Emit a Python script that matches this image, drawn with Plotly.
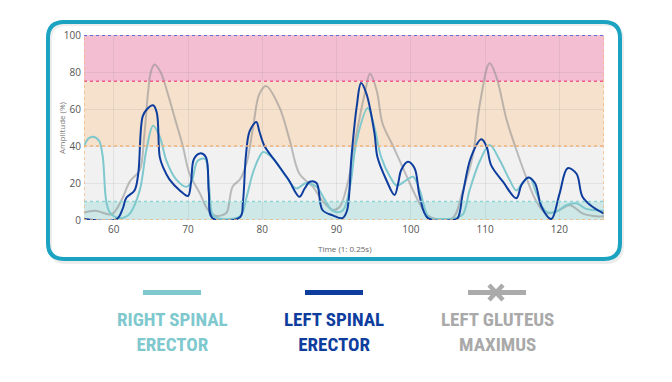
import plotly.graph_objects as go

# ---------------- data ----------------
right_x = [56, 56.6, 57.2, 58, 58.5, 59, 59.5, 60.7, 61.5, 62.2, 63.5, 64.4, 65.3, 66.2, 67.1, 68.4, 69.8, 70.5,
           71.3, 72.3, 72.8, 73.3, 74, 77, 77.9, 78.7, 79.6, 80.1, 81.4, 83.2, 84.6, 85.9, 87.3, 88.4, 89.5,
           90.8, 91.8, 92.7, 94.2, 95.1, 96, 97.2, 98.1, 99.4, 100.3, 101.2, 102.5, 104, 106, 107, 107.9,
           109.3, 110.6, 112, 113.3, 114.2, 115, 116, 116.9, 118.2, 119.6, 120.9, 122.3, 123.6, 125.8, 126]
right_y = [40, 44, 45, 43, 35, 10, 4, 1, 1.5, 3.6, 16, 38, 51, 45, 32, 22, 18, 21,
           32, 33, 20, 3, 1, 2, 12.6, 25, 34, 36.7, 33.5, 23.4, 17, 20, 18, 11, 5,
           5, 18, 43, 60.5, 50, 34, 23.4, 18.6, 21.6, 23.4, 16, 1, 0.5, 1, 3, 16,
           32, 40.5, 32, 21.6, 16, 20, 23, 14.4, 4.5, 4.5, 8, 9, 6, 5, 5]

left_x = [56, 60.4, 61.2, 61.7, 62.8, 63.3, 63.9, 64.5, 65.3, 65.8, 66.2, 66.7, 67.5, 68.9, 70, 70.4, 70.8,
          71.6, 72.4, 72.8, 73.3, 77, 77.4, 77.8, 78.3, 79.2, 79.6, 80.3, 81.9, 83.5, 85, 85.7, 86.4, 87.3,
          88.1, 89.5, 90.8, 91.4, 92, 92.7, 93.3, 94, 95.1, 95.5, 96.7, 97.8, 98.3, 98.7, 99.6, 100.5,
          101.2, 102.3, 105.6, 106.3, 107, 108.1, 109.5, 110.2, 110.8, 112.4, 114.2, 114.9, 115.8, 116.7,
          117.6, 118.9, 120, 121.1, 122.3, 123.1, 124.5, 126]
left_y = [0.5, 0.5, 6, 12, 16, 25, 56, 60, 62, 58, 34, 28, 22, 16, 13, 20, 33,
          36, 34, 15, 1, 1.5, 10, 35, 48, 53, 48, 40, 31, 22, 12.6, 17, 20.7, 20,
          5.4, 2.5, 1, 5, 34, 61, 74, 68.5, 47, 34, 21.6, 13.5, 20, 27, 31.5, 28,
          12.6, 1, 0, 1, 14.4, 34, 43.6, 39.6, 29.7, 20.7, 11.7, 19, 23, 20,
          7, 0.5, 14, 28, 25, 12.6, 7, 3.5]

glute_x = [56, 57.5, 59.7, 60.4, 61.2, 62.2, 63.5, 64.1, 64.6, 65.0, 65.5, 66.3, 67.3, 68.3, 69.3, 70.2,
           71.6, 72.6, 73.6, 74.5, 75.2, 76, 77, 77.9, 78.7, 79.6, 80.5, 82.3, 83.7, 85, 86.8, 88, 89.5,
           90.4, 91.5, 92.7, 93.8, 94.5, 95.4, 96.2, 97.6, 99.4, 100.7, 102, 103, 105.6, 107, 108.3,
           109.3, 110.6, 111.5, 112.9, 114.2, 115.5, 116.8, 118.2, 120, 121.4, 123.1, 124.9, 126]
glute_y = [4, 5, 3, 6, 12, 21, 27, 45, 68, 80, 84, 80, 68, 54, 40, 25,
           14.4, 6, 2.4, 2.5, 4, 18, 22, 31, 48.6, 68, 72.4, 61, 43, 25, 18, 10.8, 5.4,
           7, 20, 47, 68.5, 79, 70, 52, 40, 24, 12.6, 3.6, 1, 1, 16, 34,
           63, 84.7, 77.5, 54, 38, 23.4, 10.8, 3.6, 5.4, 8, 3.6, 2, 2]

x_ticks = [60, 70, 80, 90, 100, 110, 120]
y_ticks = [0, 20, 40, 60, 80, 100]
series_names = ["RIGHT SPINAL<br>ERECTOR", "LEFT SPINAL<br>ERECTOR", "LEFT GLUTEUS<br>MAXIMUS"]

# ---------------- styling ----------------
TEAL = "#7EC8CE"
BLUE = "#0E3D9E"
GRAY_LINE = "rgba(140,140,140,0.55)"
GRAY_TXT = "#A9A9A9"

OFF = 8  # page body margin
W, H = 672 - OFF, 382 - OFF
L, T = 84 - OFF, 35 - OFF
PW, PH = 520, 185
R, B = W - L - PW, H - T - PH


def px(x):
    return (x - OFF - L) / PW


def py(y):
    return (T + PH - (y - OFF)) / PH


fig = go.Figure()
fig.add_trace(go.Scatter(x=glute_x, y=glute_y, mode="lines", line=dict(color=GRAY_LINE, width=2, shape="spline", smoothing=1.0),
                         name="Left Gluteus Maximus", showlegend=False, hoverinfo="skip"))
fig.add_trace(go.Scatter(x=right_x, y=right_y, mode="lines", line=dict(color=TEAL, width=2, shape="spline", smoothing=1.0),
                         name="Right Spinal Erector", showlegend=False, hoverinfo="skip"))
fig.add_trace(go.Scatter(x=left_x, y=left_y, mode="lines", line=dict(color=BLUE, width=2, shape="spline", smoothing=1.0),
                         name="Left Spinal Erector", showlegend=False, hoverinfo="skip"))

shapes = []
bands = [(75, 100, "#F3BED1"), (40, 75, "#F5E1CC"), (10, 40, "#F1F1F1"), (0, 10, "#CDE8E7")]
for y0, y1, c in bands:
    shapes.append(dict(type="rect", xref="x", yref="y", x0=56, x1=126, y0=y0, y1=y1,
                       fillcolor=c, line=dict(width=0), layer="below"))
borders = [(100, "#2F55D4"), (75, "#EE5C8C"), (40, "#F2B278"), (10, "#8FD5D6"), (0, "#F2B278")]
for yv, c in borders:
    shapes.append(dict(type="line", xref="x", yref="y", x0=56, x1=126, y0=yv, y1=yv,
                       line=dict(color=c, width=1.3, dash="dot"), layer="above"))
for xv in (56, 126):
    shapes.append(dict(type="line", xref="x", yref="y", x0=xv, x1=xv, y0=0, y1=100,
                       line=dict(color="#F2B278", width=1.3, dash="dot"), layer="above"))


def rounded(x0, y0, x1, y1, r):
    pts = [
        f"M {px(x0 + r)} {py(y0)}",
        f"L {px(x1 - r)} {py(y0)}",
        f"Q {px(x1)} {py(y0)} {px(x1)} {py(y0 + r)}",
        f"L {px(x1)} {py(y1 - r)}",
        f"Q {px(x1)} {py(y1)} {px(x1 - r)} {py(y1)}",
        f"L {px(x0 + r)} {py(y1)}",
        f"Q {px(x0)} {py(y1)} {px(x0)} {py(y1 - r)}",
        f"L {px(x0)} {py(y0 + r)}",
        f"Q {px(x0)} {py(y0)} {px(x0 + r)} {py(y0)}",
        "Z",
    ]
    return " ".join(pts)


shapes.append(dict(type="path", xref="paper", yref="paper", path=rounded(50, 24, 622, 262, 16),
                   line=dict(color="rgba(0,0,0,0.07)", width=4), layer="below"))
shapes.append(dict(type="path", xref="paper", yref="paper", path=rounded(48, 22, 620, 259, 16),
                   line=dict(color="#1BA3C1", width=4), layer="below"))

legend_items = [(172, TEAL), (334, BLUE), (497, "#ABABAB")]
for cx, c in legend_items:
    shapes.append(dict(type="line", xref="paper", yref="paper", x0=px(cx - 29), x1=px(cx + 29),
                       y0=py(292.5), y1=py(292.5), line=dict(color=c, width=5)))
gx = 496
for dx0, dx1 in ((-7, 7), (7, -7)):
    shapes.append(dict(type="line", xref="paper", yref="paper", x0=px(gx + dx0), x1=px(gx + dx1),
                       y0=py(285), y1=py(300), line=dict(color="#ABABAB", width=4.5)))

annotations = [
    dict(text="Amplitude (%)", x=px(61), y=py(128), xref="paper", yref="paper", textangle=-90,
         xanchor="center", yanchor="middle",
         showarrow=False, font=dict(size=8, color="#777", family="Open Sans")),
    dict(text="Time (1: 0.25s)", x=px(345), y=py(248), xref="paper", yref="paper",
         xanchor="center", yanchor="middle",
         showarrow=False, font=dict(size=8, color="#666", family="Open Sans")),
]
text_colors = [TEAL, BLUE, GRAY_TXT]
for (cx, _), name, tc in zip(legend_items, series_names, text_colors):
    annotations.append(dict(text=f"<b>{name}</b>", x=px(cx), y=py(332), xref="paper", yref="paper",
                            xanchor="center", yanchor="middle",
                            showarrow=False, align="center",
                            font=dict(size=19, color=tc, family="Roboto Condensed, Roboto, sans-serif")))

fig.update_layout(
    width=W, height=H, autosize=False,
    margin=dict(l=L, r=R, t=T, b=B, pad=0),
    paper_bgcolor="white", plot_bgcolor="rgba(0,0,0,0)",
    shapes=shapes, annotations=annotations,
    showlegend=False,
    xaxis=dict(range=[56, 126], tickvals=x_ticks, showgrid=True, gridcolor="rgba(120,120,120,0.13)",
               zeroline=False, showline=False, ticks="", tickfont=dict(size=10, color="#555", family="Open Sans"),
               ticklabelstandoff=2),
    yaxis=dict(range=[0, 100], tickvals=y_ticks, showgrid=True, gridcolor="rgba(120,120,120,0.13)",
               zeroline=False, showline=False, ticks="", tickfont=dict(size=10, color="#555", family="Open Sans"),
               ticklabelstandoff=2),
)

fig.write_html("out.html")
